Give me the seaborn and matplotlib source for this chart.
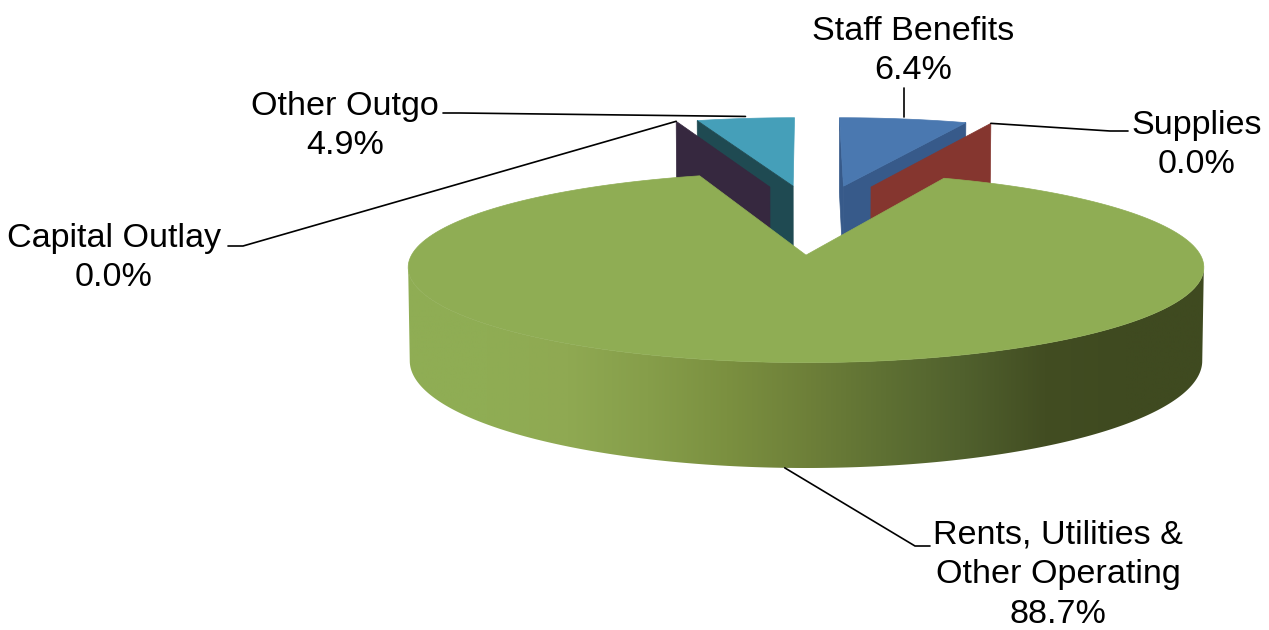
import numpy as np
import matplotlib
matplotlib.use('Agg')
import matplotlib.pyplot as plt
from matplotlib.patches import Polygon
import seaborn as sns

# Data
categories = ['Staff Benefits', 'Supplies', 'Rents, Utilities &\nOther Operating', 'Capital Outlay', 'Other Outgo']
values = [6.4, 0.0, 88.7, 0.0, 4.9]

# Colours: top face, cut face
top_colors = ['#4A78B0', '#85362F', '#8FAD54', '#36283F', '#459FB9']
cut_colors = ['#375A8A', '#85362F', '#8FAD54', '#36283F', '#1F4A52']
wall_stops = ['#8FAD54', '#8FAD54', '#8FA952', '#869E4A', '#7B9040', '#6E8039',
              '#5E7033', '#50602D', '#424D22', '#3F4A20', '#3F4A20']

# Layout of the disc on the canvas
cx, cy, rx, ry, k, depth = 806, 257, 395.5, 94, 0.13, 92
explode_u = [0.105, 0.182, 0.0, -0.101, -0.036]
explode_v = [0.835, 0.824, 0.02, 0.824, 0.835]

# Label centres
label_x = [913, 1197, 1058, 114, 345]
label_y = [51, 145, 575, 258, 126]

sns.set_theme(style='white')
plt.rcParams['font.family'] = ['Liberation Sans', 'DejaVu Sans']


def project(u, v, z=0):
    d = 1 + k * v
    return cx + rx * u / d * (1 - 0.004 * z), cy - ry * v / d + z * depth / d


def arc(i, a0, a1, z=0, n=200):
    t = np.radians(np.linspace(a0, a1, n))
    return project(explode_u[i] + np.sin(t), explode_v[i] + np.cos(t), z)


def apex(i, z=0):
    return project(explode_u[i], explode_v[i], z)


def cut_face(ax, i, angle, color):
    x0, y0 = apex(i)
    x1, y1 = apex(i, 1)
    xa, ya = arc(i, angle, angle, n=1)
    xb, yb = arc(i, angle, angle, z=1, n=1)
    ax.fill([x0, xa[0], xb[0], x1], [y0, ya[0], yb[0], y1], color=color, lw=0.5)


def top_face(ax, i, a0, a1, zorder=1):
    x, y = arc(i, a0, a1)
    x0, y0 = apex(i)
    ax.fill(np.r_[x0, x], np.r_[y0, y], color=top_colors[i], lw=0.5, zorder=zorder)


# Slice angles, clockwise from 12 o'clock
edges = np.r_[0, np.cumsum(values)] / np.sum(values) * 360

fig = plt.figure(figsize=(12.69, 6.3), dpi=100)
ax = fig.add_axes([0, 0, 1, 1])

# Back slices
top_face(ax, 4, edges[4], edges[5])
cut_face(ax, 4, edges[4], cut_colors[4])
cut_face(ax, 3, edges[3], cut_colors[3])
cut_face(ax, 0, edges[0], cut_colors[0])
cut_face(ax, 0, edges[1], cut_colors[0])
top_face(ax, 0, edges[0], edges[1])
cut_face(ax, 1, edges[1], cut_colors[1])

# Big slice: wall with a gradient clipped to its outline, then the top
widest = np.degrees(np.arccos(-k))
xt, yt = arc(2, widest, 360 - widest, n=400)
xb, yb = arc(2, widest, 360 - widest, z=1, n=400)
wall = Polygon(np.c_[np.r_[xt, xb[::-1]], np.r_[yt, yb[::-1]]], closed=True,
               facecolor='none', edgecolor='none', transform=ax.transData)
ax.add_patch(wall)
shades = np.array(sns.blend_palette(wall_stops, 256))[None, :, :]
im = ax.imshow(shades, extent=(cx - 398, cx + 399, 480, 150), aspect='auto',
               interpolation='bilinear', zorder=1.5)
im.set_clip_path(wall)
top_face(ax, 2, edges[2], edges[3], zorder=2)

# Labels
for i, name in enumerate(categories):
    ax.text(label_x[i], label_y[i], f'{name}\n{values[i]:.1f}%', ha='center', va='center',
            fontsize=24.6, color='black', linespacing=1.36, zorder=4)

# Leader lines
ax_kw = dict(color='black', lw=1.2, solid_joinstyle='miter', zorder=3)
sx, sy = arc(0, (edges[0] + edges[1]) / 2, (edges[0] + edges[1]) / 2, n=1)
ax.plot([sx[0], sx[0]], [sy[0] - 2, 88], **ax_kw)
sx, sy = arc(1, edges[1], edges[1], n=1)
ax.plot([sx[0], 1110, 1128], [sy[0], 131, 131], **ax_kw)
sx, sy = arc(2, 182.7, 182.7, z=1, n=1)
ax.plot([sx[0], 915, 930], [sy[0], 546, 546], **ax_kw)
sx, sy = arc(3, edges[3], edges[3], n=1)
ax.plot([sx[0], 243, 228], [sy[0], 246, 246], **ax_kw)
sx, sy = arc(4, (edges[4] + edges[5]) / 2, (edges[4] + edges[5]) / 2, n=1)
ax.plot([sx[0], 460, 443], [sy[0] - 2, 113, 113], **ax_kw)

ax.set_xlim(0, 1269)
ax.set_ylim(630, 0)
ax.axis('off')

fig.savefig('out.png', dpi=100)
plt.close(fig)
